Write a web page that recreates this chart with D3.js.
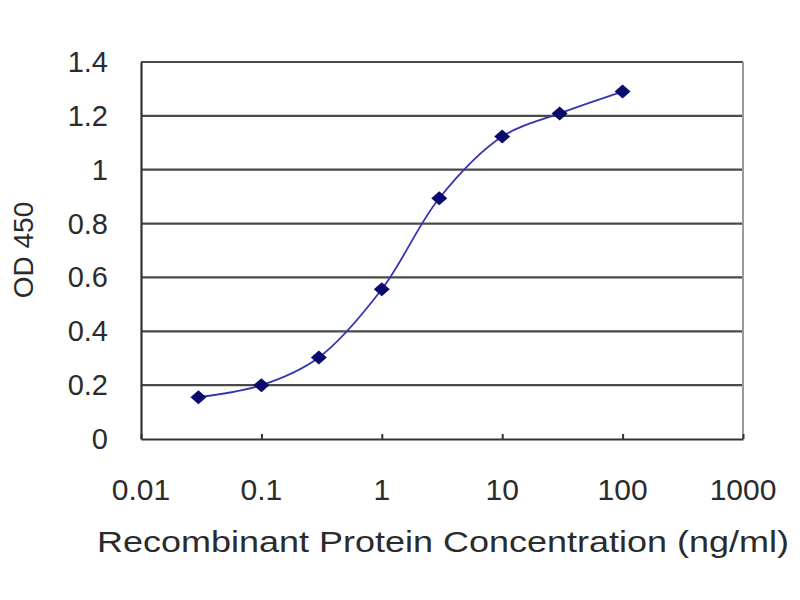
<!DOCTYPE html>
<html>
<head>
<meta charset="utf-8">
<script src="https://cdn.jsdelivr.net/npm/d3@7"></script>
<style>
  html, body { margin: 0; padding: 0; background: #fff; }
  svg { display: block; }
  text { font-family: "Liberation Sans", Arial, sans-serif; fill: #2b2b2b; }
</style>
</head>
<body>
<div id="chart"></div>
<script>
// concentrations (ng/ml) and measured OD 450
const concentrations = [0.03, 0.1, 0.3, 1, 3, 10, 30, 100];
const odValues = [0.155, 0.200, 0.303, 0.556, 0.894, 1.123, 1.209, 1.290];
const xTicks = [0.01, 0.1, 1, 10, 100, 1000];
const yTicks = [0, 0.2, 0.4, 0.6, 0.8, 1, 1.2, 1.4];

const width = 800, height = 600;
const margin = {top: 62, right: 57, bottom: 161, left: 141};
const innerWidth = width - margin.left - margin.right,
    innerHeight = height - margin.top - margin.bottom;

const svg = d3.select("#chart")
    .append("svg")
    .attr("width", width)
    .attr("height", height);

const g = svg.append("g")
    .attr("transform", "translate(" + margin.left + "," + margin.top + ")");

const x = d3.scaleLog()
    .domain([0.01, 1000])
    .range([0, innerWidth]);

const y = d3.scaleLinear()
    .domain([0, 1.4])
    .range([innerHeight, 0]);

// horizontal grid lines
g.selectAll(".grid")
    .data(yTicks.filter(d => d > 0))
    .enter()
    .append("line")
    .attr("x1", 0)
    .attr("x2", innerWidth)
    .attr("y1", d => y(d))
    .attr("y2", d => y(d))
    .attr("stroke", "#4a4a4a")
    .attr("stroke-width", 2.2);

// right border
g.append("line")
    .attr("x1", innerWidth).attr("x2", innerWidth)
    .attr("y1", 0).attr("y2", innerHeight)
    .attr("stroke", "#9a9a9a")
    .attr("stroke-width", 2);

// axes (lines and ticks only, labels drawn below)
const yAxis = g.append("g")
    .call(d3.axisLeft(y).tickValues(yTicks).tickSize(0).tickFormat(""));
yAxis.select(".domain").attr("stroke", "#333").attr("stroke-width", 2.2);

const xAxis = g.append("g")
    .attr("transform", "translate(0," + innerHeight + ")")
    .call(d3.axisBottom(x).tickValues(xTicks).tickSizeInner(-5).tickSizeOuter(0)
        .tickFormat(""));
xAxis.select(".domain").attr("stroke", "#333").attr("stroke-width", 2.2);
xAxis.selectAll(".tick line").attr("stroke", "#333").attr("stroke-width", 2);

// curve
const points = concentrations.map((c, i) => ({c: c, v: odValues[i]}));

const line = d3.line()
    .x(d => x(d.c))
    .y(d => y(d.v))
    .curve(d3.curveCatmullRom.alpha(0.5));

g.append("path")
    .datum(points)
    .attr("d", line)
    .attr("fill", "none")
    .attr("stroke", "#3535b0")
    .attr("stroke-width", 1.8);

// diamond markers
g.selectAll(".pt")
    .data(points)
    .enter()
    .append("path")
    .attr("transform", d => "translate(" + x(d.c) + "," + y(d.v) + ")")
    .attr("d", "M0,-7L8,0L0,7L-8,0Z")
    .attr("fill", "#0a0a6e");

// labels
const labels = svg.append("g").attr("class", "labels");

labels.selectAll(".ylab")
    .data(yTicks)
    .enter()
    .append("text")
    .attr("x", margin.left - 33)
    .attr("y", d => margin.top + y(d))
    .attr("dominant-baseline", "central")
    .attr("text-anchor", "end")
    .style("font-size", "29px")
    .text(d => String(+d.toFixed(1)));

labels.selectAll(".xlab")
    .data(xTicks)
    .enter()
    .append("text")
    .attr("x", d => margin.left + x(d))
    .attr("y", margin.top + innerHeight + 50)
    .attr("dominant-baseline", "central")
    .attr("text-anchor", "middle")
    .style("font-size", "30px")
    .text(d => String(d));

labels.append("text")
    .attr("x", 443)
    .attr("y", 541)
    .attr("dominant-baseline", "central")
    .attr("text-anchor", "middle")
    .attr("textLength", 692)
    .attr("lengthAdjust", "spacingAndGlyphs")
    .style("font-size", "30px")
    .text("Recombinant Protein Concentration (ng/ml)");

labels.append("text")
    .attr("transform", "translate(23,250) rotate(-90)")
    .attr("dominant-baseline", "central")
    .attr("text-anchor", "middle")
    .style("font-size", "28px")
    .text("OD 450");
</script>
</body>
</html>
